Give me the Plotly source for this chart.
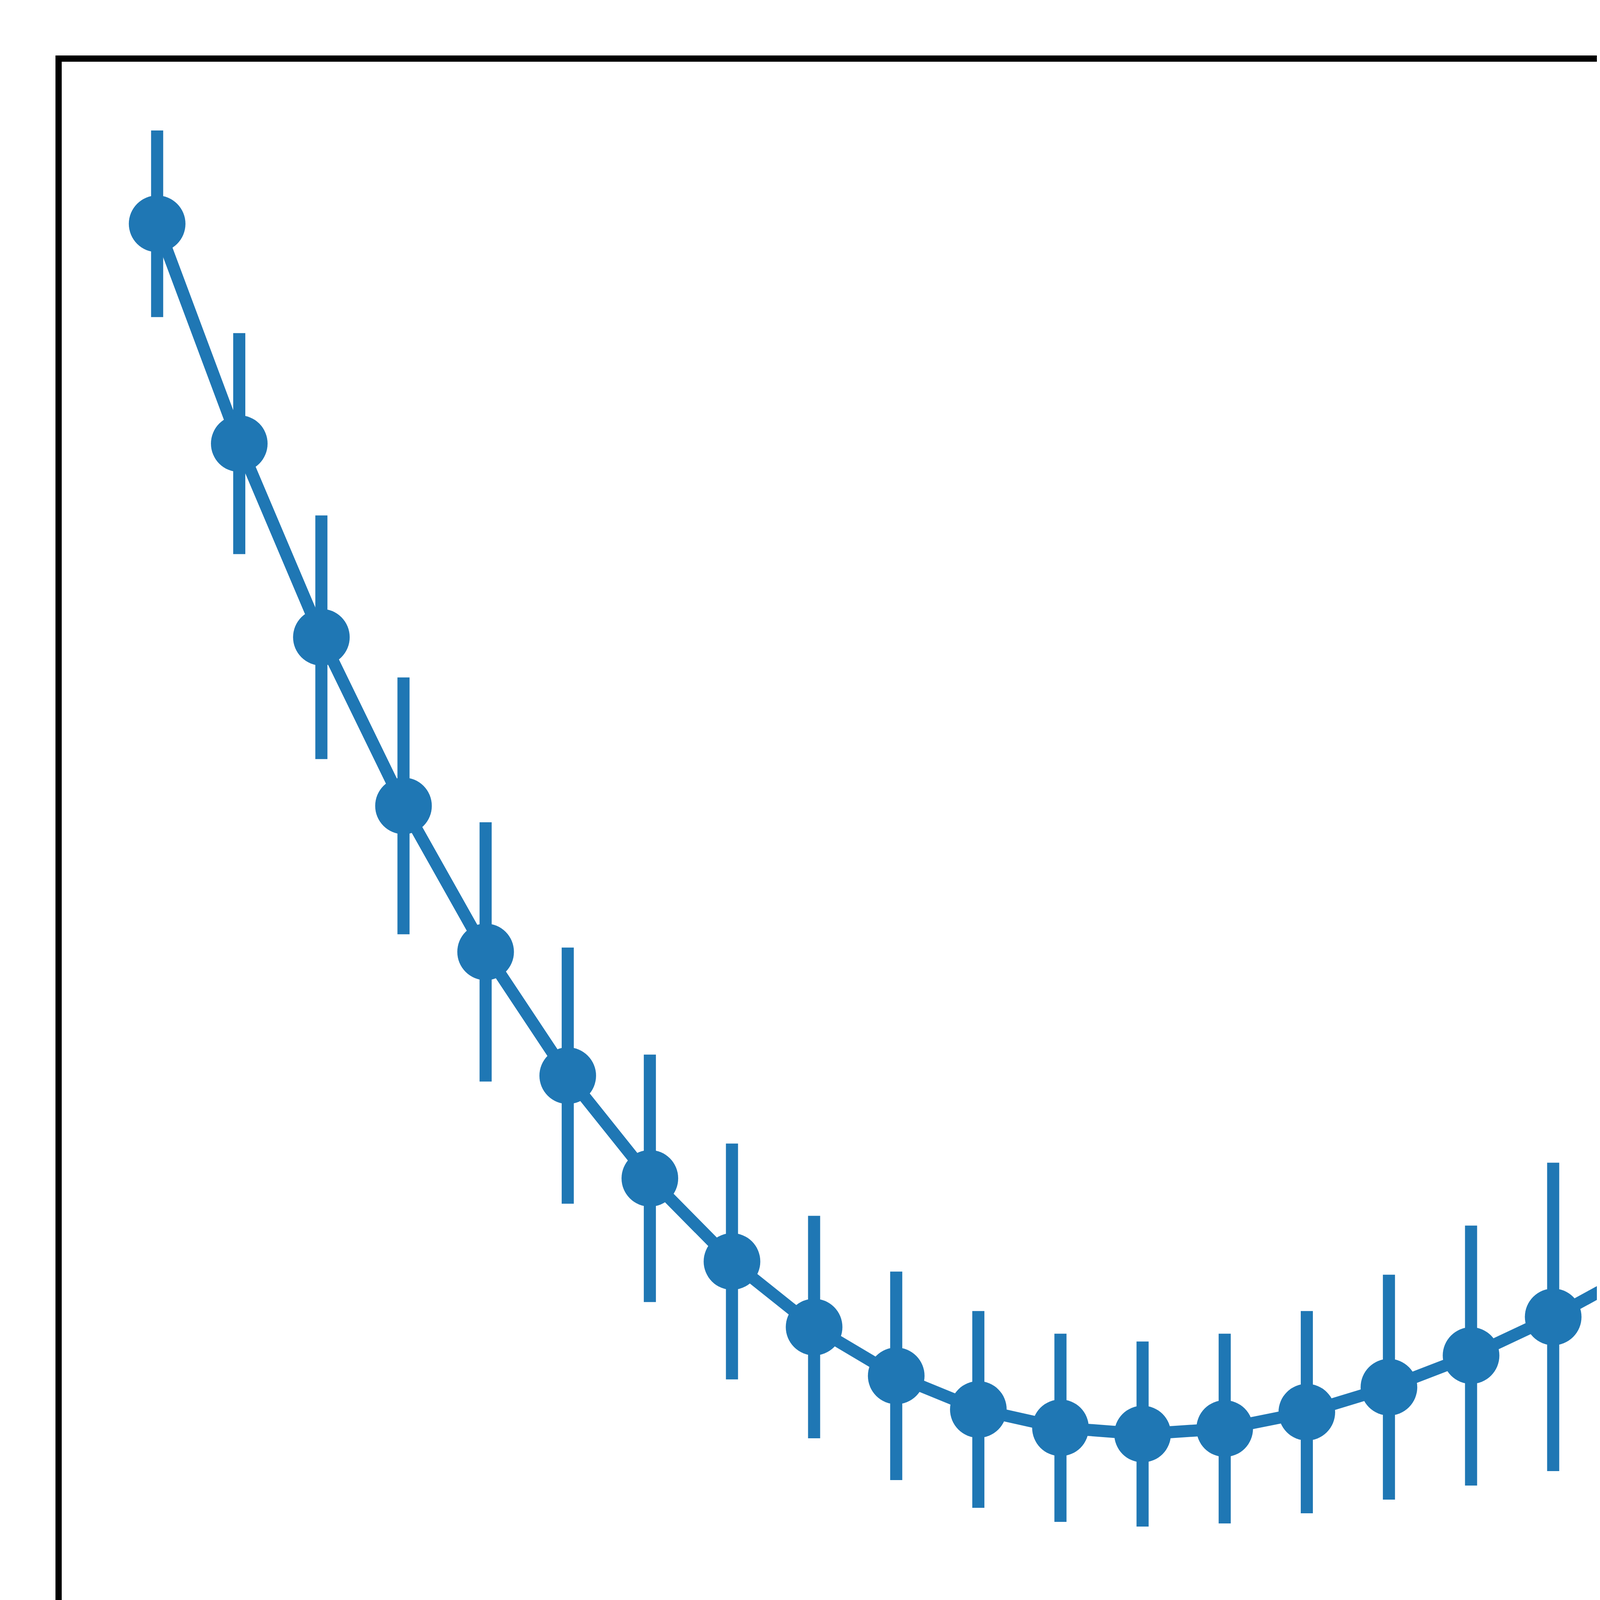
import plotly.graph_objects as go

# Data (arbitrary units)
x_vals = list(range(25))
y_vals = [36.28, 30.65, 25.69, 21.37, 17.63, 14.46, 11.83, 9.70, 8.02, 6.77,
          5.91, 5.44, 5.28, 5.42, 5.84, 6.48, 7.29, 8.28, 9.43, 10.63,
          11.92, 13.24, 14.55, 15.84, 17.04]
y_err = [2.39, 2.83, 3.12, 3.29, 3.32, 3.28, 3.17, 3.02, 2.85, 2.67,
         2.52, 2.41, 2.37, 2.43, 2.59, 2.88, 3.33, 3.95, 4.78, 5.82,
         7.13, 8.69, 10.54, 12.71, 15.21]

COLOR = "#1f77b4"
# page body has an 8px default margin; keep figure inside the 5850x4350 window
BODY_MARGIN = 8
W, H = 5850 - 2 * BODY_MARGIN, 4350 - 2 * BODY_MARGIN
M = 150 - BODY_MARGIN

# matplotlib-like 5% margins computed from the data
xlo, xhi = min(x_vals), max(x_vals)
xpad = 0.05 * (xhi - xlo)
ylo = min(y - e for y, e in zip(y_vals, y_err))
yhi = max(y + e for y, e in zip(y_vals, y_err))
ypad = 0.05 * (yhi - ylo)

fig = go.Figure(
    go.Scatter(
        x=x_vals,
        y=y_vals,
        mode="lines+markers",
        line=dict(color=COLOR, width=31),
        marker=dict(color=COLOR, size=145, line=dict(width=0)),
        error_y=dict(type="data", array=y_err, symmetric=True,
                     color=COLOR, thickness=31, width=0),
        showlegend=False,
        cliponaxis=False,
    )
)

axis_common = dict(
    showline=False, showticklabels=False, ticks="", showgrid=False,
    zeroline=False,
)
fig.update_layout(
    width=W, height=H,
    margin=dict(l=M, r=M, t=M, b=M, pad=0),
    paper_bgcolor="white", plot_bgcolor="white",
    xaxis=dict(range=[xlo - xpad, xhi + xpad], **axis_common),
    yaxis=dict(range=[ylo - ypad, yhi + ypad], **axis_common),
    shapes=[dict(type="rect", xref="paper", yref="paper", x0=0, x1=1, y0=0, y1=1,
                 line=dict(color="black", width=16), fillcolor="rgba(0,0,0,0)",
                 layer="above")],
)

fig.write_html("out.html")
